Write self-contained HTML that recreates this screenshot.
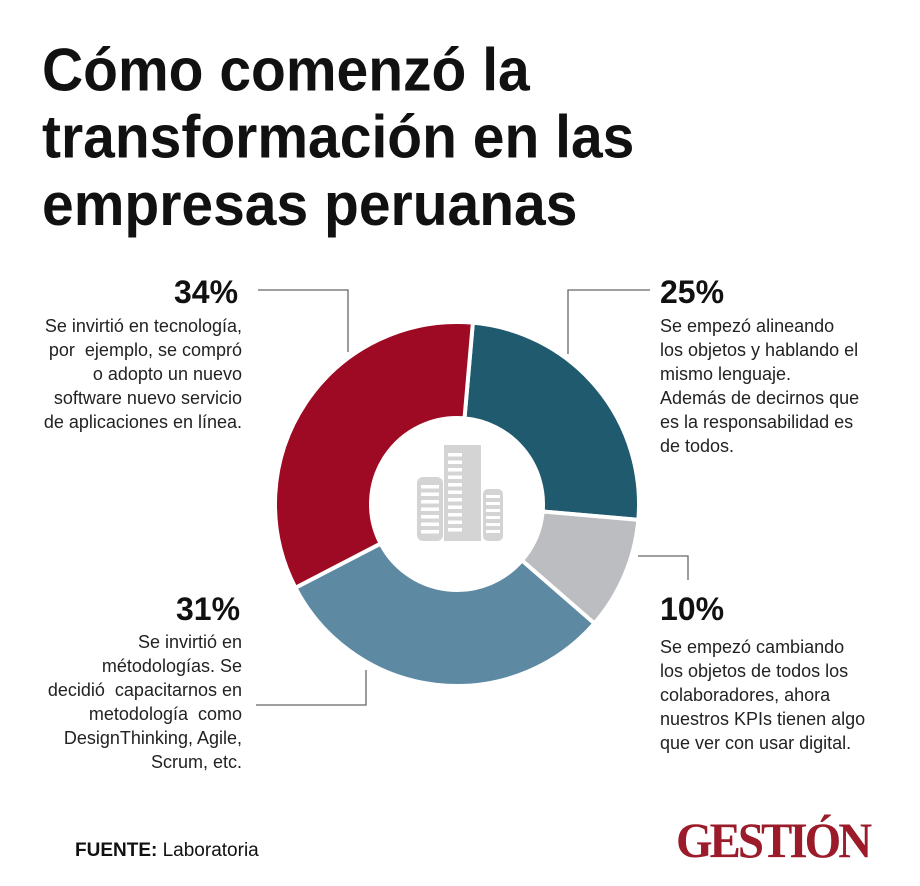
<!DOCTYPE html>
<html><head><meta charset="utf-8"><style>
body{margin:0;background:#fff;width:920px;height:886px;overflow:hidden;font-family:"Liberation Sans","DejaVu Sans",sans-serif;color:#111}
.t{position:absolute;left:42px;top:37px;font-size:57px;font-weight:bold;line-height:64px;letter-spacing:0px;margin:0;transform:scaleY(1.05);transform-origin:0 0}
.p{position:absolute;font-size:32px;font-weight:bold}
.d{position:absolute;font-size:18px;line-height:24px;color:#222;white-space:nowrap}
</style></head><body>
<h1 class="t">Cómo comenzó la<br>transformación en las<br>empresas peruanas</h1>
<div class="p" style="left:174px;top:274px">34%</div>
<div class="d" style="left:0px;top:314px;width:242px;text-align:right">Se invirtió en tecnología,<br>por&nbsp; ejemplo, se compró<br>o adopto un nuevo<br>software nuevo servicio<br>de aplicaciones en línea.</div>
<div class="p" style="left:660px;top:274px">25%</div>
<div class="d" style="left:660px;top:314px">Se empezó alineando<br>los objetos y hablando el<br>mismo lenguaje.<br>Además de decirnos que<br>es la responsabilidad es<br>de todos.</div>
<div class="p" style="left:176px;top:591px">31%</div>
<div class="d" style="left:0px;top:630px;width:242px;text-align:right">Se invirtió en<br>métodologías. Se<br>decidió&nbsp; capacitarnos en<br>metodología&nbsp; como<br>DesignThinking, Agile,<br>Scrum, etc.</div>
<div class="p" style="left:660px;top:591px">10%</div>
<div class="d" style="left:660px;top:635px">Se empezó cambiando<br>los objetos de todos los<br>colaboradores, ahora<br>nuestros KPIs tienen algo<br>que ver con usar digital.</div>
<div style="position:absolute;left:75px;top:840px;font-size:19px"><b>FUENTE:</b> Laboratoria</div>
<div style="position:absolute;left:676px;top:814px;font-family:'Liberation Serif',serif;font-size:47px;font-weight:bold;color:#9b1b2a;letter-spacing:-3px;transform:scaleY(1.05)">GESTIÓN</div>
<svg id="c" width="920" height="886" style="position:absolute;left:0;top:0">
<g stroke="#666" stroke-width="1.3" fill="none">
<polyline points="258,290 348,290 348,352"/>
<polyline points="650,290 568,290 568,354"/>
<polyline points="638,556 688,556 688,580"/>
<polyline points="256,705 366,705 366,670"/>
</g>
</svg>
<script>
const categories=["Alineando objetos","Cambiando objetivos","Metodologías","Tecnología"];
const values=[25,10,31,34];
const colors=["#1f5a6e","#bcbdc0","#5d8aa2","#9e0a24"];
const cx=457,cy=504,R=182,r=86,start=5;
const svg=document.getElementById('c');
const NS="http://www.w3.org/2000/svg";
const total=values.reduce((a,b)=>a+b,0);
function pt(a,rad){const t=(a-90)*Math.PI/180;return [cx+rad*Math.cos(t),cy+rad*Math.sin(t)];}
let a=start;
values.forEach((v,i)=>{
 const a2=a+v/total*360;const lg=(a2-a)>180?1:0;
 const p1=pt(a,R),p2=pt(a2,R),p3=pt(a2,r),p4=pt(a,r);
 const path=document.createElementNS(NS,'path');
 path.setAttribute('d',`M${p1[0]},${p1[1]}A${R},${R} 0 ${lg} 1 ${p2[0]},${p2[1]}L${p3[0]},${p3[1]}A${r},${r} 0 ${lg} 0 ${p4[0]},${p4[1]}Z`);
 path.setAttribute('fill',colors[i]);path.setAttribute('stroke','#fff');path.setAttribute('stroke-width','4');
 
 
 svg.appendChild(path);a=a2;
});
const g=document.createElementNS(NS,'g');


g.setAttribute('fill','#d4d4d4');
let inner='<rect x="417" y="477" width="26" height="64" rx="6"/><rect x="444" y="445" width="37" height="96"/><rect x="483" y="489" width="20" height="52" rx="5"/>';
for(let k=0;k<7;k++){inner+=`<rect x="421" y="${485+k*7.5}" width="18" height="3.5" fill="#fff"/>`;}
for(let k=0;k<11;k++){inner+=`<rect x="448" y="${453+k*7.5}" width="14" height="3.5" fill="#fff"/>`;}
for(let k=0;k<6;k++){inner+=`<rect x="486" y="${495+k*7}" width="14" height="3" fill="#fff"/>`;}
g.innerHTML=inner;
svg.appendChild(g);
</script>
</body></html>
